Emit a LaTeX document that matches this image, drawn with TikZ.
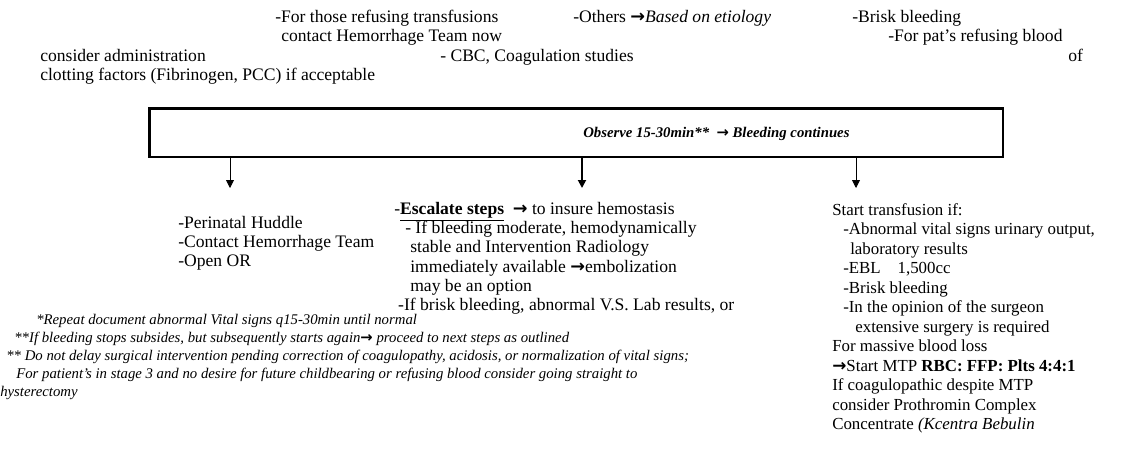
\documentclass[tikz,border=0pt]{standalone}
\usepackage{fontspec}
\setmainfont{Liberation Serif}
\newfontfamily\pphsymfont{DejaVu Sans}
\newcommand{\pphto}{{\pphsymfont\bfseries\upshape →}}
\usetikzlibrary{arrows.meta,positioning}
\definecolor{pphink}{HTML}{000000}
\definecolor{pphpage}{HTML}{FFFFFF}
\tikzset{
  pphtext/.style={
    anchor=base west,
    inner sep=0pt,
    align=left,
    font=\fontsize{12.5}{13.9}\selectfont,
    text=pphink
  },
  pphcolumn/.style={
    pphtext,
    anchor=north west,
    font=\fontsize{12.5}{13.65}\selectfont
  },
  pphnote/.style={
    pphcolumn,
    font=\fontsize{10.5}{12.8}\selectfont\itshape
  },
  pphbox/.style={
    draw=pphink,
    line width=0.9pt,
    minimum width=21.325cm,
    minimum height=1.2cm,
    inner sep=0pt
  },
  pphedge/.style={
    -{Triangle[length=2mm,width=2mm]},
    line width=0.6pt,
    color=pphink
  }
}

\begin{document}
\begin{tikzpicture}[x=0.025cm,y=-0.025cm]
  \fill[pphpage] (0,0) rectangle (1124,460);
  \useasboundingbox (0,0) rectangle (1124,460);

  % tail of the step above
  \node[pphtext] (refusers) at (275,22) {-For those refusing transfusions};
  \node[pphtext] (others) at (573,22) {-Others \pphto\textit{Based on etiology}};
  \node[pphtext] (brisk) at (852,22) {-Brisk bleeding};
  \node[pphtext] (contactnow) at (281,41) {contact Hemorrhage Team now};
  \node[pphtext] (refuseblood) at (888,41) {-For pat's refusing blood};
  \node[pphtext] (consider) at (40,61) {consider administration};
  \node[pphtext] (cbc) at (440,61) {- CBC, Coagulation studies};
  \node[pphtext] (of) at (1068,61) {of};
  \node[pphtext] (clotting) at (40,80) {clotting factors (Fibrinogen, PCC) if acceptable};

  \node[pphbox] (observe) at (576.5,133) {};
  \draw[line width=1.6pt] (observe.south west) -- (observe.north west) -- (observe.north east);
  \node[pphtext, font=\fontsize{10.5}{13}\selectfont\bfseries\itshape] (observetext) at (583,137)
    {Observe 15-30min**\enspace\pphto\ Bleeding continues};

  \coordinate (leftend) at (230,188);
  \coordinate (midend) at (582,188);
  \coordinate (rightend) at (856,188);
  \draw[pphedge] (observe.south -| leftend) -- (leftend);
  \draw[pphedge, line width=1.3pt] (observe.south -| midend) -- (midend);
  \draw[pphedge] (observe.south -| rightend) -- (rightend);

  \node[pphcolumn] (huddle) at (178,216) {%
    -Perinatal Huddle\\
    -Contact Hemorrhage Team\\
    -Open OR};

  \node[pphcolumn] (escalate) at (394,202) {%
    -\underline{\textbf{Escalate steps}}\enspace\pphto\ to insure hemostasis\\
    \hspace*{7.8pt}- If bleeding moderate, hemodynamically\\
    \hspace*{11.4pt}stable and Intervention Radiology\\
    \hspace*{11.4pt}immediately available \pphto embolization\\
    \hspace*{11.4pt}may be an option\\
    \hspace*{2.8pt}-If brisk bleeding, abnormal V.S. Lab results, or};

  \node[pphcolumn, font=\fontsize{12}{13.87}\selectfont] (transfuse) at (832,203) {%
    Start transfusion if:\\
    \hspace*{7.8pt}-Abnormal vital signs urinary output,\\
    \hspace*{12.8pt}laboratory results\\
    \hspace*{7.8pt}-EBL\quad 1,500cc\\
    \hspace*{7.8pt}-Brisk bleeding\\
    \hspace*{7.8pt}-In the opinion of the surgeon\\
    \hspace*{16.4pt}extensive surgery is required\\
    For massive blood loss\\
    \pphto Start MTP \textbf{RBC: FFP: Plts 4:4:1}\\
    If coagulopathic despite MTP\\
    consider Prothromin Complex\\
    Concentrate \textit{(Kcentra Bebulin}};

  % footnotes
  \node[pphnote] (footnotes) at (0,314) {%
    \hspace*{25.6pt}*Repeat document abnormal Vital signs q15-30min until normal\\
    \hspace*{10pt}**If bleeding stops subsides, but subsequently starts again\pphto\ proceed to next steps as outlined\\
    \hspace*{4.3pt}** Do not delay surgical intervention pending correction of coagulopathy, acidosis, or normalization of vital signs;\\
    \hspace*{11.4pt}For patient's in stage 3 and no desire for future childbearing or refusing blood consider going straight to\\
    hysterectomy};
\end{tikzpicture}
\end{document}
